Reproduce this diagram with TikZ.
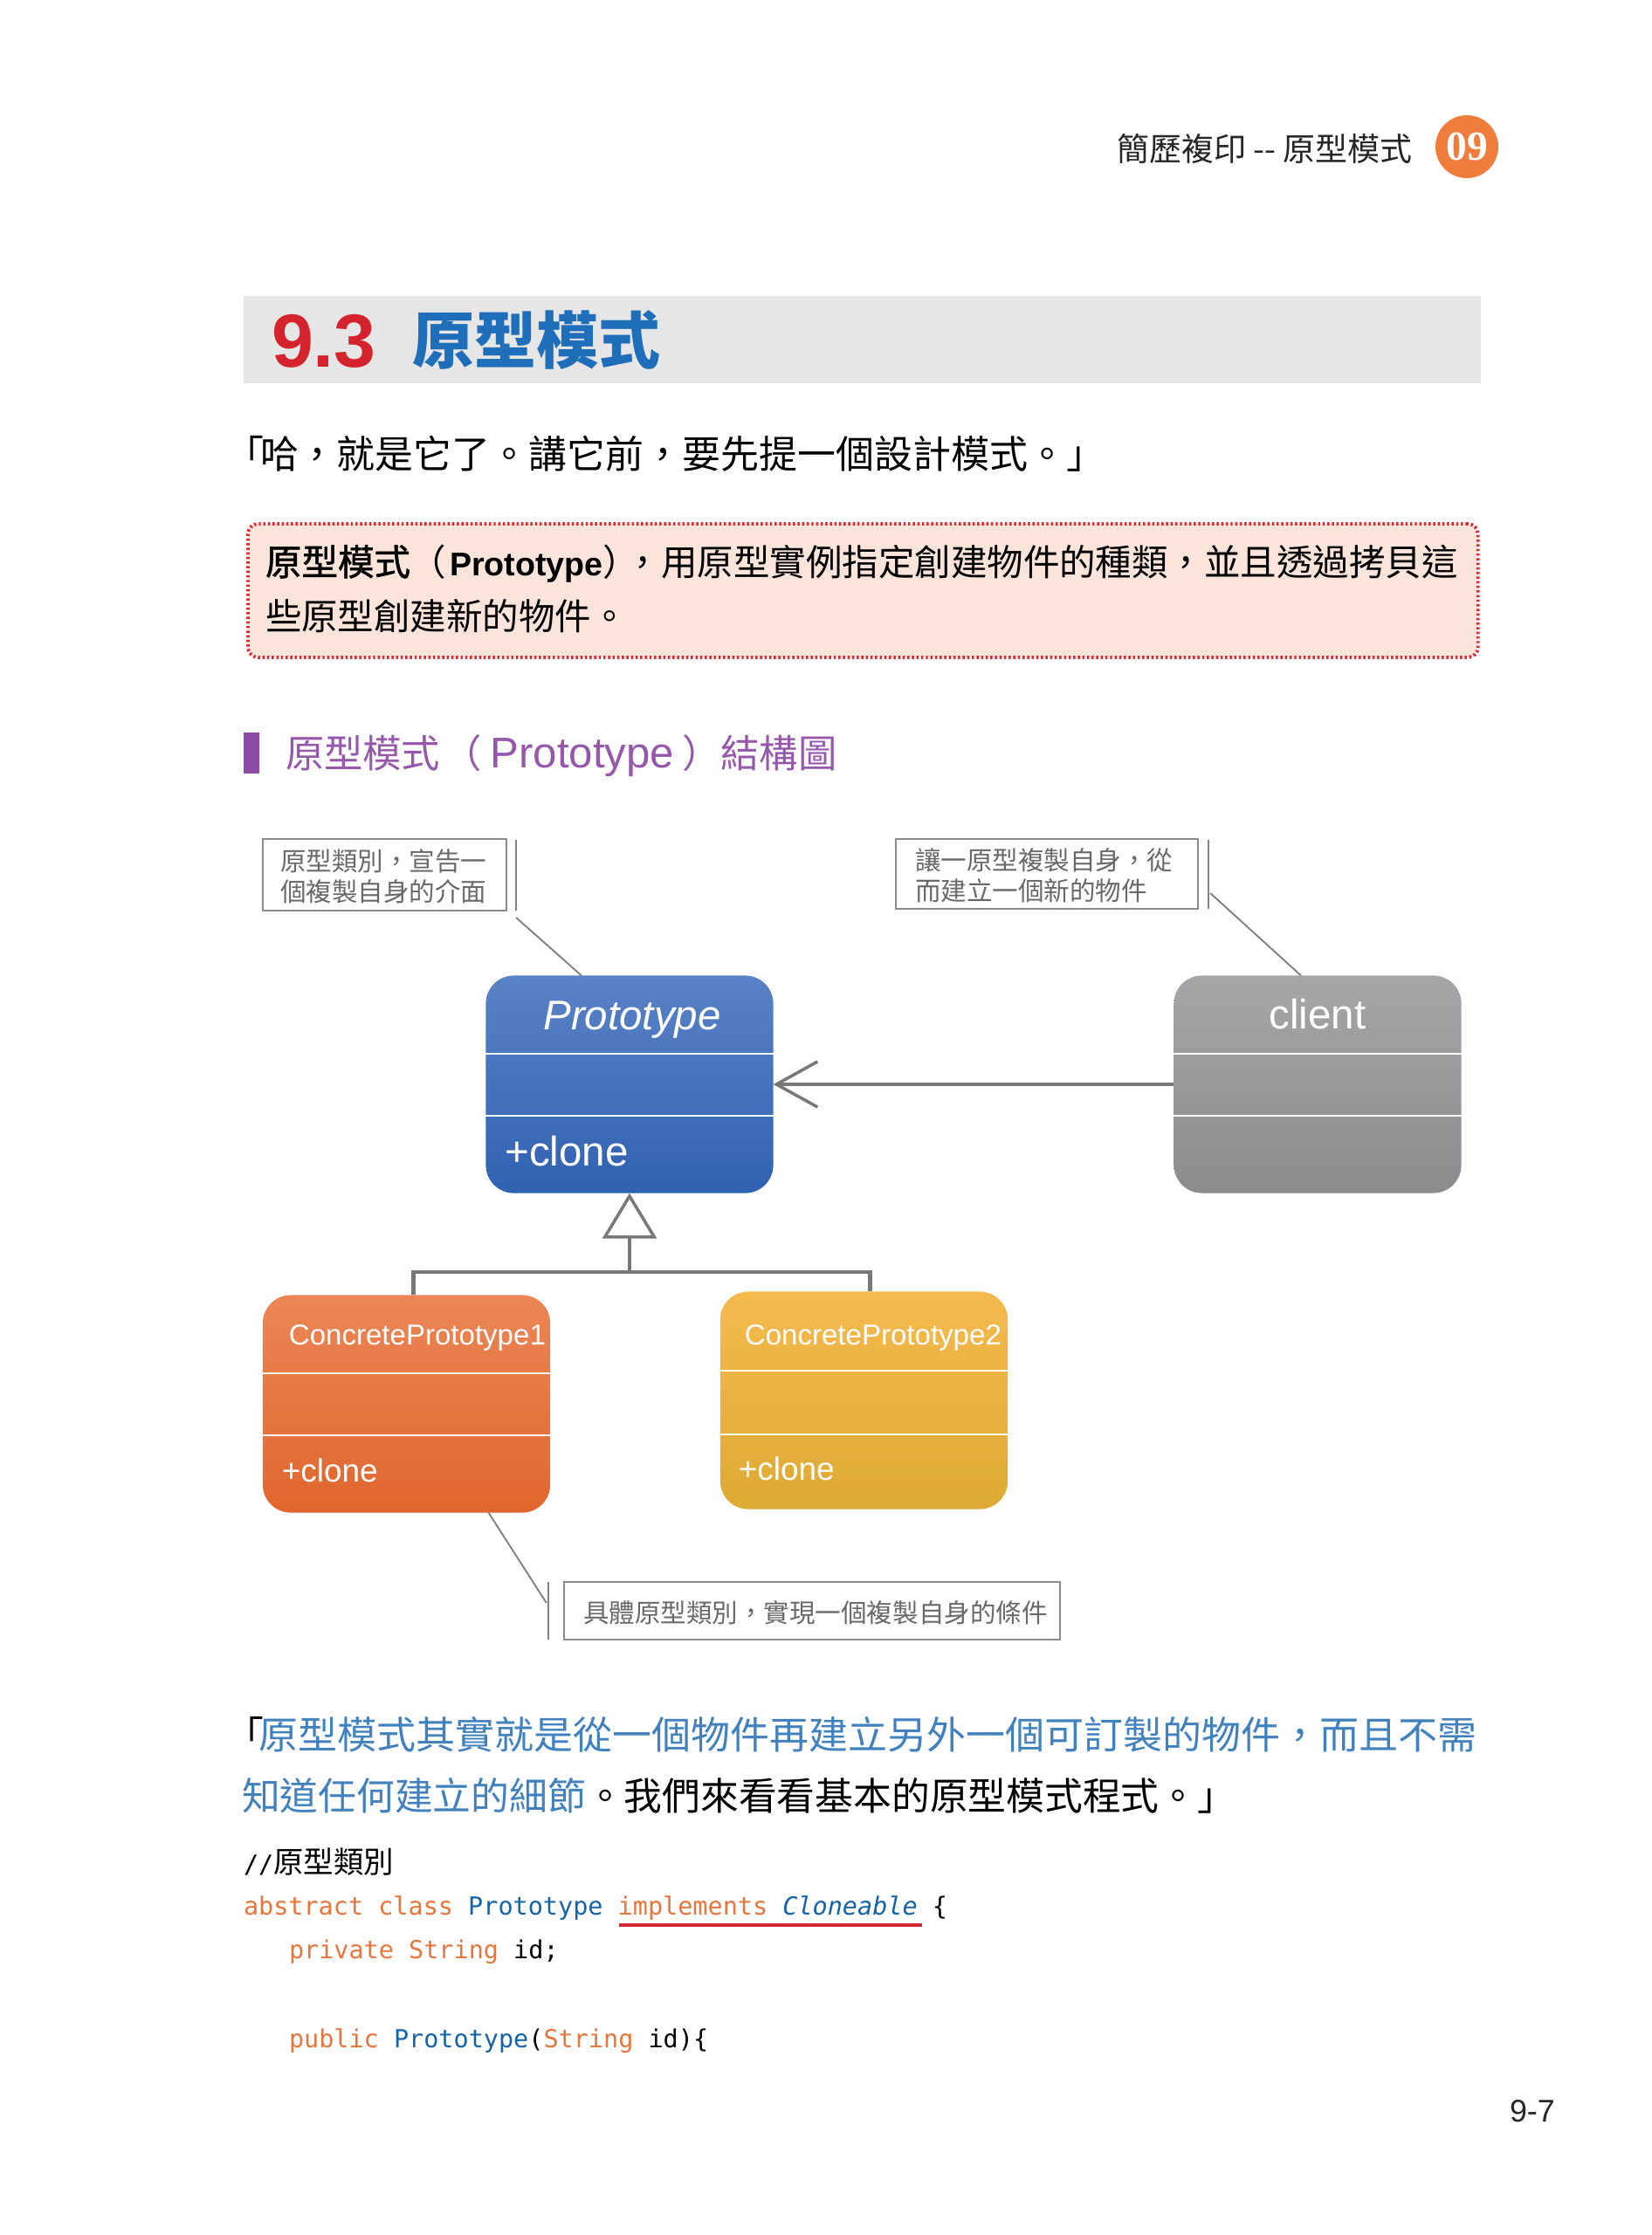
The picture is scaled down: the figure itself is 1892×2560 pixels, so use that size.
\documentclass[tikz,border=0pt]{standalone}
\usepackage{fontspec}
\setmainfont{Liberation Sans}
\newfontfamily\cjk{Noto Sans CJK TC}
\newfontfamily\cjkmed{Noto Sans CJK TC}[FakeBold=1.3]
\newfontfamily\codefont{DejaVu Sans Mono}
\newfontfamily\serifb{Liberation Serif}
\newfontfamily\lsans{Liberation Sans}
\usetikzlibrary{arrows.meta,calc,shadings}
\newcommand\fsz[1]{\fontsize{#1}{#1}\selectfont}
\definecolor{barbg}{RGB}{230,230,230}
\definecolor{titlered}{RGB}{212,35,45}
\definecolor{titleblue}{RGB}{30,110,185}
\definecolor{defbg}{RGB}{251,228,218}
\definecolor{defred}{RGB}{224,40,50}
\definecolor{subpurple}{RGB}{142,75,165}
\definecolor{subtext}{RGB}{150,88,170}
\definecolor{chap}{RGB}{240,125,60}
\definecolor{qblue}{RGB}{65,130,190}
\definecolor{kw}{RGB}{232,118,60}
\definecolor{ty}{RGB}{20,100,170}
\definecolor{ulred}{RGB}{213,40,50}
\definecolor{notegray}{RGB}{140,140,140}
\definecolor{notetext}{RGB}{105,105,105}
\definecolor{linkgray}{RGB}{130,130,130}
\definecolor{conngray}{RGB}{120,120,120}
\definecolor{protTop}{RGB}{90,130,198}
\definecolor{protBot}{RGB}{48,98,178}
\definecolor{cliTop}{RGB}{166,166,169}
\definecolor{cliBot}{RGB}{140,140,143}
\definecolor{cpaTop}{RGB}{236,134,86}
\definecolor{cpaBot}{RGB}{224,102,45}
\definecolor{cpbTop}{RGB}{245,186,78}
\definecolor{cpbBot}{RGB}{221,170,52}
\begin{document}
\begin{tikzpicture}[x=0.01cm,y=-0.01cm,
  txt/.style={inner sep=0pt, outer sep=0pt, anchor=base west},
  cls/.style={rounded corners=0.32cm, inner sep=0pt, outer sep=0pt, minimum width=3.29cm, minimum height=2.49cm},
  note/.style={draw=notegray, line width=0.6pt, fill=white, inner sep=0pt, outer sep=0pt},
  notetxt/.style={txt, text=notetext, font=\cjk\fsz{8.4pt}},
  lnk/.style={draw=linkgray, line width=0.55pt},
  conn/.style={draw=conngray, line width=1.2pt},
  divider/.style={draw=white, line width=0.5pt},
  clsname/.style={txt, text=white, font=\fsz{13.5pt}},
  cpname/.style={txt, text=white, font=\fsz{9.4pt}},
  cpop/.style={txt, text=white, font=\fsz{10.5pt}},
  codeline/.style={txt, font=\codefont\fsz{8.1pt}}
]
\useasboundingbox (0,0) rectangle (1892,2560);
\fill[white] (0,0) rectangle (1892,2560);

% header
\node[txt, anchor=base east, font=\cjk\fsz{10.5pt}, text=black!85] (hdr) at (1617,184) {簡歷複印 -{}- 原型模式};
\node[circle, fill=chap, minimum size=0.72cm, inner sep=0pt, text=white, font=\serifb\bfseries\fsz{13.5pt}] (chap) at (1680,168) {09};

% title bar
\node[fill=barbg, minimum width=14.16cm, minimum height=1.0cm, inner sep=0pt, anchor=north west] (bar) at (278,338) {};
\node[txt, font=\bfseries\fsz{24.5pt}, text=titlered] (num) at (311,420) {9.3};
\node[txt, font=\cjk\bfseries\fsz{20.2pt}, text=titleblue] (ttl) at (472,416) {原型模式};

% quote 1
\node[txt, font=\cjk\fsz{12.5pt}] (q1o) at (258,536) {「};
\node[txt, font=\cjk\fsz{12.5pt}] (q1) at (298,536) {哈，就是它了。講它前，要先提一個設計模式。」};

% definition box
\node[draw=defred, fill=defbg, rounded corners=0.12cm, line width=1.1pt, dash pattern=on 0.7pt off 0.8pt, minimum width=14.08cm, minimum height=1.53cm, anchor=north west, inner sep=0pt] (def) at (282,598) {};
\node[txt, font=\cjk\fsz{11.8pt}] (d1) at (304,659) {{\cjkmed 原型模式}（\kern1pt{\lsans\bfseries\fsz{10.7pt}Prototype}）\kern-0.4em，用原型實例指定創建物件的種類，並且透過拷貝這};
\node[txt, font=\cjk\fsz{11.8pt}] (d2) at (304,721) {些原型創建新的物件。};

% subheading
\node[fill=subpurple, minimum width=0.18cm, minimum height=0.47cm, inner sep=0pt, anchor=north west] (sbar) at (278,838) {};
\node[txt, font=\cjk\fsz{12.6pt}, text=subtext] (sub) at (327,879) {原型模式\kern0.9pt（\kern2.8pt{\lsans\fsz{14pt}Prototype}\kern2.5pt）結構圖};

% classes
\node[cls, top color=protTop, bottom color=protBot] (P) at (721,1242) {};
\node[cls, top color=cliTop, bottom color=cliBot] (C) at (1509,1242) {};
\node[cls, top color=cpaTop, bottom color=cpaBot] (CPa) at (465.5,1608) {};
\node[cls, top color=cpbTop, bottom color=cpbBot] (CPb) at (989.5,1604) {};

\foreach \b in {P,C,CPa}{
  \draw[divider] ($(\b.west)+(0,-35)$) -- ($(\b.east)+(0,-35)$);
  \draw[divider] ($(\b.west)+(0,36)$) -- ($(\b.east)+(0,36)$);
}
\draw[divider] ($(CPb.west)+(0,-34)$) -- ($(CPb.east)+(0,-34)$);
\draw[divider] ($(CPb.west)+(0,39)$) -- ($(CPb.east)+(0,39)$);

\node[clsname, anchor=base, font=\itshape\fsz{13.5pt}] (Pn) at ($(P.north)+(3,62)$) {Prototype};
\node[clsname] (Pm) at ($(P.south west)+(22,-31)$) {+clone};
\node[clsname, anchor=base] (Cn) at ($(C.north)+(0,61)$) {client};
\node[cpname] (CPan) at ($(CPa.north west)+(30,57)$) {ConcretePrototype1};
\node[cpop] (CPam) at ($(CPa.south west)+(22,-35)$) {+clone};
\node[cpname] (CPbn) at ($(CPb.north west)+(28,61)$) {ConcretePrototype2};
\node[cpop] (CPbm) at ($(CPb.south west)+(21,-33)$) {+clone};

% association client -> Prototype
\draw[conn, -{Straight Barb[length=0.47cm, width=0.52cm, line width=1pt]}] (C.west) -- (P.east);

% generalization
\coordinate (J) at (721,1457);
\draw[conn] ($(CPa.north)+(8,0)$) |- (J) -| ($(CPb.north)+(7,0)$);
\draw[conn, -{Triangle[fill=white, length=0.52cm, width=0.62cm, line width=1pt]}] (J) -- (P.south);

% notes
\node[note, minimum width=2.79cm, minimum height=0.82cm] (n1) at (440.5,1002) {};
\node[notetxt] (n1a) at (321,997) {原型類別，宣告一};
\node[notetxt] (n1b) at (321,1032) {個複製自身的介面};
\draw[lnk] ($(n1.north east)+(11,1)$) -- ($(n1.south east)+(11,0)$);
\draw[lnk] ($(n1.south east)+(11,8)$) -- ($(P.north)+(-55,0)$);

\node[note, minimum width=3.46cm, minimum height=0.80cm] (n2) at (1199,1001) {};
\node[notetxt] (n2a) at (1048,996) {讓一原型複製自身，從};
\node[notetxt] (n2b) at (1048,1031) {而建立一個新的物件};
\draw[lnk] ($(n2.north east)+(12,1)$) -- ($(n2.south east)+(12,0)$);
\draw[lnk] ($(n2.east)+(14,22)$) -- ($(C.north)+(-19,0)$);

\node[note, minimum width=5.68cm, minimum height=0.66cm] (n3) at (930,1845) {};
\node[notetxt] (n3a) at (668,1858) {具體原型類別，實現一個複製自身的條件};
\draw[lnk] ($(n3.north west)+(-18,0)$) -- ($(n3.south west)+(-18,0)$);
\draw[lnk] ($(CPa.south)+(94,0)$) -- ($(n3.west)+(-20,-9)$);

% quote 2
\node[txt, font=\cjk\fsz{12.45pt}] (q2o) at (258,2003) {「};
\node[txt, font=\cjk\fsz{12.45pt}, text=qblue] (q2a) at (296,2003) {\scalebox{1.028}[1]{原型模式其實就是從一個物件再建立另外一個可訂製的物件，而且不需}};
\node[txt, font=\cjk\fsz{12.45pt}] (q2b) at (277,2073) {\textcolor{qblue}{知道任何建立的細節}。我們來看看基本的原型模式程式。」};

% code
\node[codeline] (cm) at (279,2145) {//{\cjk\fsz{9.8pt}原型類別}};
\node[codeline] (c1) at (279,2193) {\textcolor{kw}{abstract class} \textcolor{ty}{Prototype} \textcolor{kw}{implements} \textcolor{ty}{\itshape Cloneable} \{};
\draw[draw=ulred, line width=1.4pt] (709,2205) -- (1056,2205);
\node[codeline] (c2) at (331,2243) {\textcolor{kw}{private String} id;};
\node[codeline] (c4) at (331,2345) {\textcolor{kw}{public} \textcolor{ty}{Prototype}(\textcolor{kw}{String} id)\{};

% page number
\node[txt, font=\fsz{10.2pt}, text=black!85] (pg) at (1729,2430) {9-7};
\end{tikzpicture}
\end{document}
